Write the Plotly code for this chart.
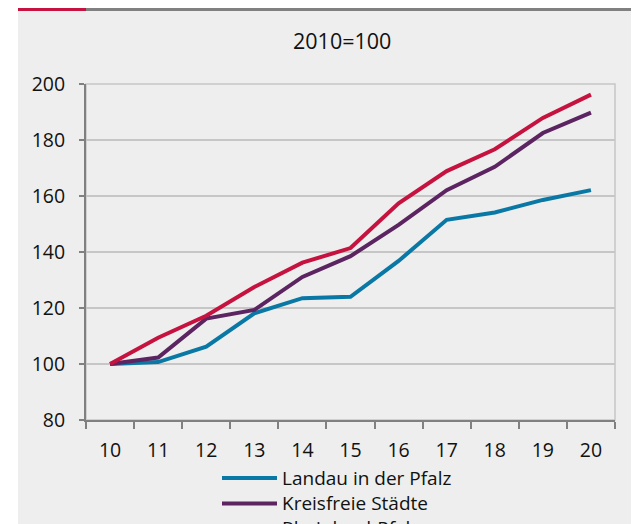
import plotly.graph_objects as go

# ---- data ----
years = ["10", "11", "12", "13", "14", "15", "16", "17", "18", "19", "20"]
landau = [100, 100.7, 106.2, 118.1, 123.5, 124.0, 136.8, 151.5, 154.1, 158.6, 162.1]
kreisfrei = [100, 102.3, 116.2, 119.3, 131.1, 138.5, 149.7, 162.1, 170.4, 182.5, 189.8]
rlp = [100, 109.4, 117.2, 127.5, 136.2, 141.4, 157.4, 168.9, 176.7, 187.9, 196.2]
series_names = ["Landau in der Pfalz", "Kreisfreie Städte", "Rheinland-Pfalz"]
series_colors = ["#0A78A5", "#5C2461", "#C5123F"]
y_ticks = [80, 100, 120, 140, 160, 180, 200]
title_text = "2010=100"

# ---- layout geometry (pixels) ----
W, H = 639, 524
L, R, T, B = 78, 32, 76, 112
PW, PH = W - L - R, H - T - B
FONT = "Open Sans"
BG = "#EDEEED"
TXT = "#111111"


def px(x):
    return (x - L) / PW


def py(y):
    return (H - B - y) / PH


fig = go.Figure()
for name, vals, col in zip(series_names, [landau, kreisfrei, rlp], series_colors):
    fig.add_trace(go.Scatter(x=years, y=vals, mode="lines", name=name,
                             line=dict(color=col, width=4), showlegend=False))

shapes = [
    # white strip on left
    dict(type="rect", xref="paper", yref="paper", x0=px(0), x1=px(10), y0=py(H), y1=py(0),
         fillcolor="white", line=dict(width=0), layer="below"),
    # top bars
    dict(type="rect", xref="paper", yref="paper", x0=px(10), x1=px(78), y0=py(3), y1=py(0),
         fillcolor="#C5123F", line=dict(width=0), layer="below"),
    dict(type="rect", xref="paper", yref="paper", x0=px(78), x1=px(W), y0=py(3), y1=py(0),
         fillcolor="#808080", line=dict(width=0), layer="below"),
    # plot border (top / right)
    dict(type="rect", xref="paper", yref="paper", x0=0, x1=1, y0=0, y1=1,
         line=dict(color="#C6C6C6", width=1.5), layer="below"),
]

annotations = [
    dict(text=title_text, xref="paper", yref="paper", x=px(334), y=py(32),
         xanchor="center", yanchor="middle", showarrow=False,
         font=dict(family=FONT, size=21.5, color=TXT)),
]

# manual legend
leg_y = [470, 495.5, 520]
for name, col, yy in zip(series_names, series_colors, leg_y):
    shapes.append(dict(type="line", xref="paper", yref="paper", x0=px(214), x1=px(269),
                       y0=py(yy), y1=py(yy), line=dict(color=col, width=4)))
    annotations.append(dict(text=name, xref="paper", yref="paper", x=px(272), y=py(yy),
                            xanchor="left", yanchor="middle", showarrow=False,
                            font=dict(family=FONT, size=19, color=TXT)))

fig.update_layout(
    width=W, height=H,
    margin=dict(l=L, r=R, t=T, b=B),
    paper_bgcolor=BG, plot_bgcolor="rgba(0,0,0,0)",
    font=dict(family=FONT, size=19.5, color=TXT),
    showlegend=False,
    shapes=shapes, annotations=annotations,
    xaxis=dict(type="category", range=[-0.5, len(years) - 0.5], showgrid=False,
               showline=True, linecolor="#808080",
               linewidth=2, ticks="outside", tickson="boundaries", ticklen=7,
               tickcolor="#808080", tickwidth=1.5, ticklabelstandoff=12,
               tickfont=dict(family=FONT, size=19.5, color=TXT)),
    yaxis=dict(range=[80, 200], tickvals=y_ticks, showgrid=True, gridcolor="#C6C6C6",
               gridwidth=1.5, showline=True, linecolor="#808080", linewidth=2,
               ticks="outside", ticklen=5, tickcolor="#808080", tickwidth=1.5,
               ticklabelstandoff=10, zeroline=False,
               tickfont=dict(family=FONT, size=19.5, color=TXT)),
)

fig.write_html("out.html")
